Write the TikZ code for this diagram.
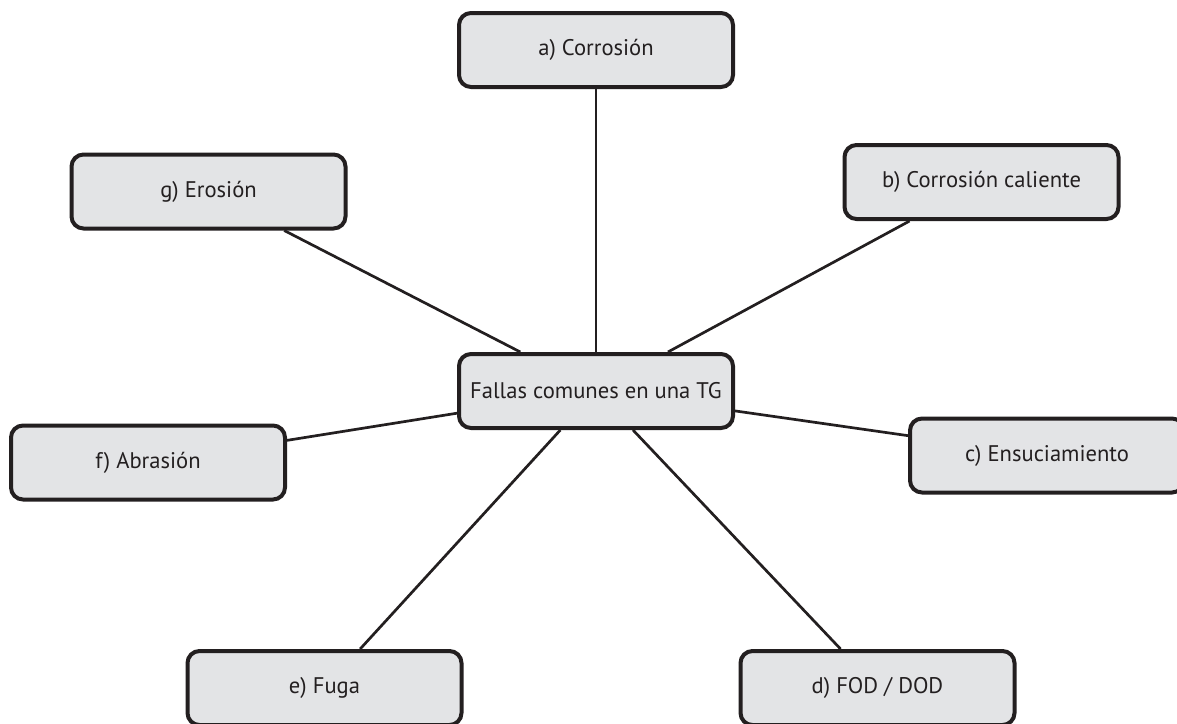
\documentclass[tikz,border=0pt]{standalone}
\usepackage{fontspec}
\setmainfont{PT Sans}
\definecolor{cajagris}{HTML}{E3E4E6}
\definecolor{tinta}{HTML}{231F20}

\begin{document}
\begin{tikzpicture}[x=0.5pt, y=-0.5pt,
    caja/.style= {draw=tinta, line width=2pt, fill=cajagris, rounded corners=6pt,
      minimum width=137pt, minimum height=37pt, text=tinta,
      font=\fontsize{11.3}{14}\selectfont},
    enlace/.style= {draw=tinta, line width=1.35pt},
]

\useasboundingbox (0,0) rectangle (1177,723);

% central node
\node[caja] (tg) at (596, 391) {Fallas comunes en una TG};

% failure modes
\node[caja] (a) at (596, 50) {a) Corrosión};
\node[caja] (b) at (981.5, 182) {b) Corrosión caliente};
\node[caja] (c) at (1047, 455.5) {c) Ensuciamiento};
\node[caja] (d) at (877.5, 688) {d) FOD / DOD};
\node[caja] (e) at (324.5, 688) {e) Fuga};
\node[caja] (f) at (148, 462.5) {f) Abrasión};
\node[caja] (g) at (208.5, 191.5) {g) Erosión};

% links
\foreach \n in {a, b, c, d, e, f, g}{
\draw[enlace] (tg) -- (\n);
}
\end{tikzpicture}
\end{document}
